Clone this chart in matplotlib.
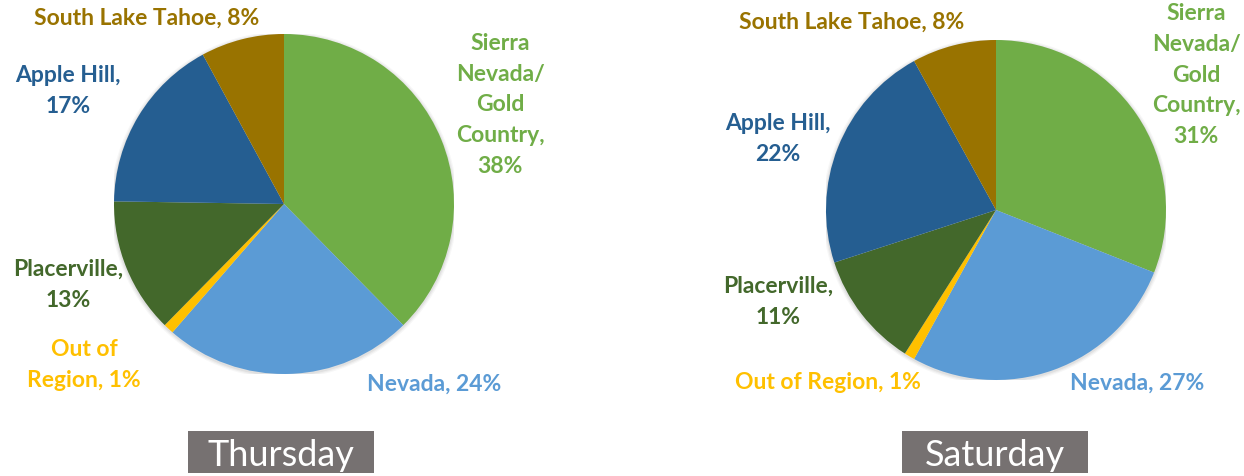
import matplotlib
matplotlib.use("Agg")
import matplotlib.pyplot as plt
from matplotlib.patches import Rectangle, Circle

W, H = 1244, 477

categories = ["Sierra Nevada/Gold Country", "Nevada", "Out of Region",
              "Placerville", "Apple Hill", "South Lake Tahoe"]
thursday = [38, 24, 1, 13, 17, 8]
saturday = [31, 27, 1, 11, 22, 8]
colors = ["#70AD47", "#5B9BD5", "#FFC000", "#43682B", "#255E91", "#997300"]

thu_labels = ["Sierra\nNevada/\nGold\nCountry,\n38%", "Nevada, 24%", "Out of\nRegion, 1%",
              "Placerville,\n13%", "Apple Hill,\n17%", "South Lake Tahoe, 8%"]
sat_labels = ["Sierra\nNevada/\nGold\nCountry,\n31%", "Nevada, 27%", "Out of Region, 1%",
              "Placerville,\n11%", "Apple Hill,\n22%", "South Lake Tahoe, 8%"]

thu_pos = [(500, 105), (434, 384), (84, 365), (68, 285), (68, 91), (147, 18)]
sat_pos = [(1196, 75), (1137, 383), (828, 383), (778, 302), (778, 139), (852, 22)]

plt.rcParams['font.family'] = ['Lato', 'DejaVu Sans']

fig = plt.figure(figsize=(W / 100, H / 100), dpi=100)
fig.patch.set_facecolor("white")


def fx(x):
    return x / W


def fy(y):
    return 1 - y / H


def draw_pie(cx, cy, r, values, labels, pos, title, box):
    ax = fig.add_axes([fx(cx - r), fy(cy + r), 2 * r / W, 2 * r / H])
    ax.axis("off")
    # subtle shadow
    for i, a in enumerate([0.05, 0.04, 0.03]):
        ax.add_patch(Circle((0.0, -0.006), 1.0 + 0.007 * (i + 1), color="black",
                            alpha=a, lw=0, zorder=0))
    ax.pie(values, colors=colors, startangle=90, counterclock=False,
           radius=1.0, wedgeprops=dict(linewidth=0, edgecolor="none"))
    ax.set_aspect("equal")
    ax.set_xlim(-1.0, 1.0)
    ax.set_ylim(-1.0, 1.0)
    for lab, (px, py), col in zip(labels, pos, colors):
        fig.text(fx(px), fy(py), lab, color=col, fontsize=16.5, fontweight="bold",
                 ha="center", va="center", linespacing=1.57)
    x0, y0, x1, y1 = box
    fig.patches.append(Rectangle((fx(x0), fy(y1)), (x1 - x0) / W, (y1 - y0) / H,
                                 transform=fig.transFigure, facecolor="#767171",
                                 edgecolor="none"))
    fig.text(fx((x0 + x1) / 2), fy((y0 + y1) / 2 + 3), title, color="white",
             fontsize=26, ha="center", va="center")


draw_pie(284, 205, 170, thursday, thu_labels, thu_pos, "Thursday", (188, 432, 374, 474))
draw_pie(996, 211, 170, saturday, sat_labels, sat_pos, "Saturday", (902, 432, 1088, 474))

fig.savefig("out.png", dpi=100, facecolor="white")
